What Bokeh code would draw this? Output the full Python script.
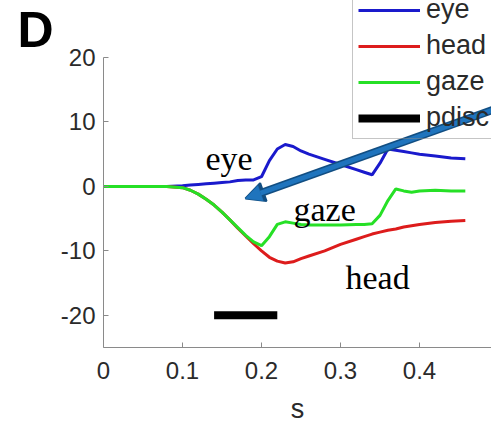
from bokeh.plotting import figure
from bokeh.models import (Legend, LegendItem, Label, Arrow, NormalHead,
                          FixedTicker, Range1d, CustomJSTickFormatter)
from bokeh.embed import file_html
from bokeh.resources import INLINE

# time base (s) shared by the three traces
time_s = [0.0, 0.02, 0.04, 0.06, 0.08, 0.10, 0.11, 0.12, 0.13, 0.14, 0.15,
          0.16, 0.17, 0.18, 0.19, 0.20, 0.21, 0.22, 0.23, 0.24, 0.25, 0.26,
          0.28, 0.30, 0.32, 0.33, 0.34, 0.35, 0.36, 0.37, 0.38, 0.39, 0.40,
          0.42, 0.44, 0.458]

# eye-in-head position (deg)
eye = [0.0, 0.0, 0.0, 0.0, 0.0, 0.1, 0.2, 0.3, 0.4, 0.5, 0.6,
       0.7, 0.9, 1.0, 1.0, 1.5, 4.0, 5.8, 6.5, 6.2, 5.5, 5.0,
       4.2, 3.4, 2.6, 2.2, 1.8, 3.6, 5.8, 5.6, 5.4, 5.2, 5.0,
       4.7, 4.4, 4.3]

# head position (deg)
head = [0.0, 0.0, 0.0, 0.0, 0.0, -0.2, -0.6, -1.2, -2.0, -2.9, -4.0,
        -5.2, -6.5, -7.7, -8.9, -10.0, -11.0, -11.6, -11.9, -11.7, -11.2, -10.8,
        -10.0, -9.0, -8.2, -7.8, -7.4, -7.1, -6.8, -6.6, -6.3, -6.1, -5.9,
        -5.6, -5.4, -5.3]

# gaze position (deg)
gaze = [0.0, 0.0, 0.0, 0.0, 0.0, -0.2, -0.6, -1.2, -2.0, -2.9, -4.0,
        -5.2, -6.4, -7.6, -8.6, -9.2, -7.8, -5.9, -5.5, -5.7, -5.9, -6.0,
        -6.0, -6.0, -5.9, -5.9, -5.8, -4.5, -2.2, -0.4, -0.7, -0.9, -0.7,
        -0.6, -0.7, -0.7]

# perturbation window
pdisc_start, pdisc_end = 0.14, 0.22
pdisc_level = -20

x_ticks = [0, 0.1, 0.2, 0.3, 0.4]
y_ticks = [-20, -10, 0, 10, 20]

BLUE = "#1a1acc"
RED = "#dd1c1c"
GREEN = "#26e026"
TICK_TEXT = "#2a2a2a"
AXIS_GREY = "#8a8a8a"

# The frame fills the whole canvas; the axes are pinned inside it at x=0 / y=-25
# so that the legend, panel letter and arrow can sit anywhere on the page.
W, H = 491, 422
X0_PX, Y_TOP_PX, Y_BOT_PX = 103, 57, 347
PX_PER_S = 790.0
PX_PER_DEG = (Y_BOT_PX - Y_TOP_PX) / 45.0
x_lo = -X0_PX / PX_PER_S
x_hi = (W - X0_PX) / PX_PER_S
y_hi = 20 + Y_TOP_PX / PX_PER_DEG
y_lo = -25 - (H - Y_BOT_PX) / PX_PER_DEG

p = figure(width=W, height=H, output_backend="svg", toolbar_location=None,
           x_range=Range1d(x_lo, x_hi), y_range=Range1d(y_lo, y_hi),
           min_border=0, min_border_left=0, min_border_right=0,
           min_border_top=0, min_border_bottom=0)

p.background_fill_color = "white"
p.border_fill_color = "white"
p.outline_line_color = None
p.grid.visible = False

r_eye = p.line(time_s, eye, line_color=BLUE, line_width=3)
r_head = p.line(time_s, head, line_color=RED, line_width=3)
r_gaze = p.line(time_s, gaze, line_color=GREEN, line_width=3)
r_pdisc = p.line([pdisc_start, pdisc_end], [pdisc_level, pdisc_level],
                 line_color="black", line_width=8, line_cap="butt")

plain = CustomJSTickFormatter(code="return tick.toString()")
for ax in (p.xaxis[0], p.yaxis[0]):
    ax.axis_line_color = AXIS_GREY
    ax.major_tick_line_color = AXIS_GREY
    ax.major_tick_in = 5
    ax.major_tick_out = 0
    ax.minor_tick_line_color = None
    ax.major_label_text_font = "Liberation Sans"
    ax.major_label_text_font_size = "24px"
    ax.major_label_text_color = TICK_TEXT
    ax.formatter = plain

p.xaxis.ticker = FixedTicker(ticks=x_ticks)
p.yaxis.ticker = FixedTicker(ticks=y_ticks)
p.xaxis.fixed_location = -25
p.yaxis.fixed_location = 0
p.xaxis.bounds = (0, 0.5)
p.yaxis.bounds = (-25, 20)
p.xaxis.major_label_standoff = 14
p.yaxis.major_label_standoff = 8
p.xaxis.axis_label = "s"
p.xaxis.axis_label_text_font = "Liberation Sans"
p.xaxis.axis_label_text_font_style = "normal"
p.xaxis.axis_label_text_font_size = "27px"
p.xaxis.axis_label_text_color = TICK_TEXT
p.xaxis.axis_label_standoff = 12

# legend box is see-through so the pointer arrow stays visible across it
legend = Legend(items=[LegendItem(label="eye", renderers=[r_eye]),
                       LegendItem(label="head", renderers=[r_head]),
                       LegendItem(label="gaze", renderers=[r_gaze]),
                       LegendItem(label="pdisc", renderers=[r_pdisc])],
                location=(352, H - 139),
                label_text_font="Liberation Sans", label_text_font_size="27px",
                label_text_color=TICK_TEXT,
                glyph_width=62, glyph_height=30, label_height=30,
                label_standoff=6, spacing=5, padding=5,
                border_line_color="#8c8c8c", border_line_width=1,
                background_fill_alpha=0.0)
p.add_layout(legend)

# in-plot trace names
serif = "Liberation Serif"
for txt, x, y in (("eye", 0.129, 4.3), ("gaze", 0.2405, -3.6), ("head", 0.3063, -14.1)):
    p.add_layout(Label(x=x, y=y, text=txt, text_font=serif, text_font_size="34px",
                       text_color="black", text_baseline="alphabetic", text_align="left"))

# pointer arrow: dark outline underneath, lighter body on top
tip_x, tip_y = 0.1797, -1.88
tail_x, tail_y = 0.53, 13.5
p.add_layout(Arrow(x_start=tail_x, y_start=tail_y, x_end=tip_x, y_end=tip_y,
                   line_color="#124e82", line_width=8, level="overlay",
                   end=NormalHead(size=19, fill_color="#124e82", line_color="#124e82",
                                  line_width=2)))
p.add_layout(Arrow(x_start=tail_x, y_start=tail_y, x_end=tip_x, y_end=tip_y,
                   line_color="#1f74bd", line_width=5, level="overlay",
                   end=NormalHead(size=16, fill_color="#1f74bd", line_color="#1f74bd",
                                  line_width=0.5)))

# panel letter
p.add_layout(Label(x=17, y=H - 29, x_units="screen", y_units="screen", text="D",
                   text_font="Liberation Sans", text_font_style="bold",
                   text_font_size="50px", text_color="black",
                   text_baseline="alphabetic"))

open("out.html", "w").write(file_html(p, INLINE))
